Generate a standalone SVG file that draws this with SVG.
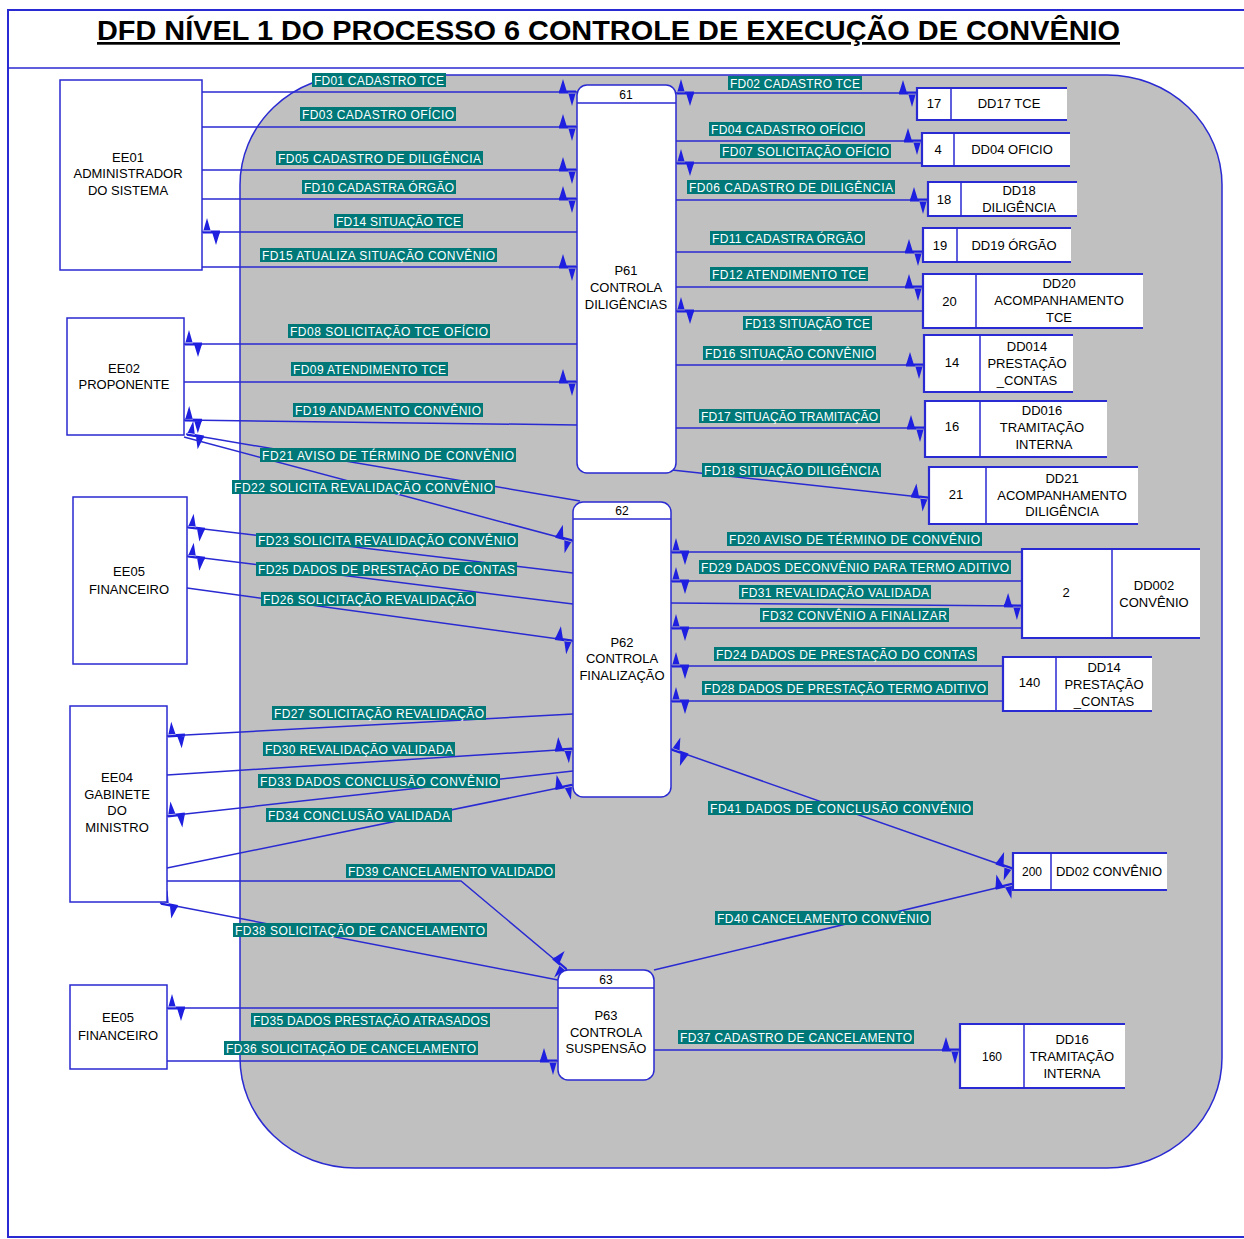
<svg xmlns="http://www.w3.org/2000/svg" width="1244" height="1239" viewBox="0 0 1244 1239">
<style>
.frame{fill:#ffffff;stroke:#2a2ad2;stroke-width:2}
.region{fill:#c0c0c0;stroke:#2a2ad2;stroke-width:1.5}
.ln{fill:none;stroke:#2a2ad2;stroke-width:1.5;marker-end:url(#ah)}
.bi{marker-start:url(#ah)}
.box{fill:#ffffff;stroke:#2a2ad2;stroke-width:1.5}
.sfill{fill:#ffffff;stroke:none}
.sline{fill:none;stroke:#2a2ad2;stroke-width:1.5}
.sedge{fill:none;stroke:#2a2ad2;stroke-width:2.2}
.lb{fill:#007878}
.lt{fill:#ffffff;font-family:"Liberation Sans",Arial,sans-serif;font-size:12px}
.nt{fill:#000000;font-family:"Liberation Sans",Arial,sans-serif;font-size:13px;text-anchor:middle}
.hd{fill:#000000;font-family:"Liberation Sans",Arial,sans-serif;font-size:12px;text-anchor:middle}
.title{fill:#000000;font-family:"Liberation Sans",Arial,sans-serif;font-size:27px;font-weight:bold;text-decoration:underline}
</style>
<defs>
<marker id="ah" markerUnits="userSpaceOnUse" orient="auto-start-reverse" overflow="visible" markerWidth="20" markerHeight="30" viewBox="-20 -15 20 30" refX="0" refY="0">
<path d="M-18,0 L-14,-13 L-10,0 Z M-9,0 L-5,14 L-1,0 Z M-18,-1.5 H-1 V1.5 H-18 Z" fill="#1f1fe0"/>
</marker>
</defs>
<rect x="0" y="0" width="1244" height="1239" fill="#ffffff"/>
<rect class="frame" x="8" y="10" width="1240" height="1227"/>
<line x1="8" y1="68" x2="1244" y2="68" stroke="#2a2ad2" stroke-width="1.5"/>
<text class="title" x="97" y="40" textLength="1023" lengthAdjust="spacingAndGlyphs">DFD NÍVEL 1 DO PROCESSO 6 CONTROLE DE EXECUÇÃO DE CONVÊNIO</text>
<rect class="region" x="240" y="75" width="982" height="1093" rx="115" ry="110"/>

<g id="connectors">
<g id="lines">
<path class="ln" d="M202,92 H577"/>
<path class="ln" d="M202,127 H577"/>
<path class="ln" d="M202,170 H577"/>
<path class="ln" d="M202,199 H577"/>
<path class="ln" d="M577,232 H202"/>
<path class="ln" d="M202,267 H577"/>
<path class="ln bi" d="M676,93 H917"/>
<path class="ln" d="M676,141 H922"/>
<path class="ln" d="M922,163 H676"/>
<path class="ln" d="M676,200 H928"/>
<path class="ln" d="M676,252 H923"/>
<path class="ln" d="M676,287 H923"/>
<path class="ln" d="M923,311 H676"/>
<path class="ln" d="M676,365 H924"/>
<path class="ln" d="M676,428 H925"/>
<path class="ln" d="M672,470 L929,498"/>
<path class="ln" d="M577,344 H184"/>
<path class="ln" d="M184,382 H577"/>
<path class="ln" d="M577,425 L184,420"/>
<path class="ln" d="M580,501 L186,434"/>
<path class="ln" d="M184,437 L573,541"/>
<path class="ln" d="M573,573 L187,527"/>
<path class="ln" d="M573,604 L187,556"/>
<path class="ln" d="M187,588 L573,641"/>
<path class="ln" d="M1022,552 H671"/>
<path class="ln" d="M1022,581 H671"/>
<path class="ln" d="M671,603 L1022,606"/>
<path class="ln" d="M1022,628 H671"/>
<path class="ln" d="M1003,666 H671"/>
<path class="ln" d="M1003,701 H671"/>
<path class="ln" d="M573,714 L167,736"/>
<path class="ln" d="M167,775 L573,749"/>
<path class="ln" d="M573,771 L167,816"/>
<path class="ln" d="M167,868 L573,785"/>
<path class="ln" d="M167,881 H461 L567,970"/>
<path class="ln" d="M558,980 L160,903"/>
<path class="ln bi" d="M671,749 L1013,869"/>
<path class="ln" d="M654,970 L1013,884"/>
<path class="ln" d="M558,1008 H167"/>
<path class="ln" d="M167,1061 H558"/>
<path class="ln" d="M654,1050 H960"/>
</g>
<g id="labels">
<rect class="lb" x="312" y="73" width="134" height="14"/><text class="lt" x="314" y="84.5" textLength="130" lengthAdjust="spacing">FD01 CADASTRO TCE</text>
<rect class="lb" x="728" y="76" width="134" height="14"/><text class="lt" x="730" y="87.5" textLength="130" lengthAdjust="spacing">FD02 CADASTRO TCE</text>
<rect class="lb" x="300" y="107" width="156" height="14"/><text class="lt" x="302" y="118.5" textLength="152" lengthAdjust="spacing">FD03 CADASTRO OFÍCIO</text>
<rect class="lb" x="709" y="122" width="156" height="14"/><text class="lt" x="711" y="133.5" textLength="152" lengthAdjust="spacing">FD04 CADASTRO OFÍCIO</text>
<rect class="lb" x="720" y="144" width="171" height="14"/><text class="lt" x="722" y="155.5" textLength="167" lengthAdjust="spacing">FD07 SOLICITAÇÃO OFÍCIO</text>
<rect class="lb" x="276" y="151" width="207" height="14"/><text class="lt" x="278" y="162.5" textLength="203" lengthAdjust="spacing">FD05 CADASTRO DE DILIGÊNCIA</text>
<rect class="lb" x="687" y="180" width="208" height="14"/><text class="lt" x="689" y="191.5" textLength="204" lengthAdjust="spacing">FD06 CADASTRO DE DILIGÊNCIA</text>
<rect class="lb" x="302" y="180" width="154" height="14"/><text class="lt" x="304" y="191.5" textLength="150" lengthAdjust="spacing">FD10 CADASTRA ÓRGÃO</text>
<rect class="lb" x="710" y="231" width="155" height="14"/><text class="lt" x="712" y="242.5" textLength="151" lengthAdjust="spacing">FD11 CADASTRA ÓRGÃO</text>
<rect class="lb" x="334" y="214" width="129" height="14"/><text class="lt" x="336" y="225.5" textLength="125" lengthAdjust="spacing">FD14 SITUAÇÃO TCE</text>
<rect class="lb" x="260" y="248" width="237" height="14"/><text class="lt" x="262" y="259.5" textLength="233" lengthAdjust="spacing">FD15 ATUALIZA SITUAÇÃO CONVÊNIO</text>
<rect class="lb" x="710" y="267" width="158" height="14"/><text class="lt" x="712" y="278.5" textLength="154" lengthAdjust="spacing">FD12 ATENDIMENTO TCE</text>
<rect class="lb" x="743" y="316" width="129" height="14"/><text class="lt" x="745" y="327.5" textLength="125" lengthAdjust="spacing">FD13 SITUAÇÃO TCE</text>
<rect class="lb" x="288" y="324" width="202" height="14"/><text class="lt" x="290" y="335.5" textLength="198" lengthAdjust="spacing">FD08 SOLICITAÇÃO TCE OFÍCIO</text>
<rect class="lb" x="291" y="362" width="157" height="14"/><text class="lt" x="293" y="373.5" textLength="153" lengthAdjust="spacing">FD09 ATENDIMENTO TCE</text>
<rect class="lb" x="293" y="403" width="190" height="14"/><text class="lt" x="295" y="414.5" textLength="186" lengthAdjust="spacing">FD19 ANDAMENTO CONVÊNIO</text>
<rect class="lb" x="703" y="346" width="173" height="14"/><text class="lt" x="705" y="357.5" textLength="169" lengthAdjust="spacing">FD16 SITUAÇÃO CONVÊNIO</text>
<rect class="lb" x="699" y="409" width="181" height="14"/><text class="lt" x="701" y="420.5" textLength="177" lengthAdjust="spacing">FD17 SITUAÇÃO TRAMITAÇÃO</text>
<rect class="lb" x="702" y="463" width="179" height="14"/><text class="lt" x="704" y="474.5" textLength="175" lengthAdjust="spacing">FD18 SITUAÇÃO DILIGÊNCIA</text>
<rect class="lb" x="260" y="448" width="256" height="14"/><text class="lt" x="262" y="459.5" textLength="252" lengthAdjust="spacing">FD21 AVISO DE TÉRMINO DE CONVÊNIO</text>
<rect class="lb" x="232" y="480" width="263" height="14"/><text class="lt" x="234" y="491.5" textLength="259" lengthAdjust="spacing">FD22 SOLICITA REVALIDAÇÃO CONVÊNIO</text>
<rect class="lb" x="256" y="533" width="262" height="14"/><text class="lt" x="258" y="544.5" textLength="258" lengthAdjust="spacing">FD23 SOLICITA REVALIDAÇÃO CONVÊNIO</text>
<rect class="lb" x="256" y="562" width="261" height="14"/><text class="lt" x="258" y="573.5" textLength="257" lengthAdjust="spacing">FD25 DADOS DE PRESTAÇÃO DE CONTAS</text>
<rect class="lb" x="261" y="592" width="215" height="14"/><text class="lt" x="263" y="603.5" textLength="211" lengthAdjust="spacing">FD26 SOLICITAÇÃO REVALIDAÇÃO</text>
<rect class="lb" x="727" y="532" width="255" height="14"/><text class="lt" x="729" y="543.5" textLength="251" lengthAdjust="spacing">FD20 AVISO DE TÉRMINO DE CONVÊNIO</text>
<rect class="lb" x="699" y="560" width="312" height="14"/><text class="lt" x="701" y="571.5" textLength="308" lengthAdjust="spacing">FD29 DADOS DECONVÊNIO PARA TERMO ADITIVO</text>
<rect class="lb" x="739" y="585" width="192" height="14"/><text class="lt" x="741" y="596.5" textLength="188" lengthAdjust="spacing">FD31 REVALIDAÇÃO VALIDADA</text>
<rect class="lb" x="760" y="608" width="189" height="14"/><text class="lt" x="762" y="619.5" textLength="185" lengthAdjust="spacing">FD32 CONVÊNIO A FINALIZAR</text>
<rect class="lb" x="714" y="647" width="263" height="14"/><text class="lt" x="716" y="658.5" textLength="259" lengthAdjust="spacing">FD24 DADOS DE PRESTAÇÃO DO CONTAS</text>
<rect class="lb" x="702" y="681" width="286" height="14"/><text class="lt" x="704" y="692.5" textLength="282" lengthAdjust="spacing">FD28 DADOS DE PRESTAÇÃO TERMO ADITIVO</text>
<rect class="lb" x="272" y="706" width="214" height="14"/><text class="lt" x="274" y="717.5" textLength="210" lengthAdjust="spacing">FD27 SOLICITAÇÃO REVALIDAÇÃO</text>
<rect class="lb" x="263" y="742" width="192" height="14"/><text class="lt" x="265" y="753.5" textLength="188" lengthAdjust="spacing">FD30 REVALIDAÇÃO VALIDADA</text>
<rect class="lb" x="258" y="774" width="242" height="14"/><text class="lt" x="260" y="785.5" textLength="238" lengthAdjust="spacing">FD33 DADOS CONCLUSÃO CONVÊNIO</text>
<rect class="lb" x="266" y="808" width="186" height="14"/><text class="lt" x="268" y="819.5" textLength="182" lengthAdjust="spacing">FD34 CONCLUSÃO VALIDADA</text>
<rect class="lb" x="346" y="864" width="209" height="14"/><text class="lt" x="348" y="875.5" textLength="205" lengthAdjust="spacing">FD39 CANCELAMENTO VALIDADO</text>
<rect class="lb" x="233" y="923" width="254" height="14"/><text class="lt" x="235" y="934.5" textLength="250" lengthAdjust="spacing">FD38 SOLICITAÇÃO DE CANCELAMENTO</text>
<rect class="lb" x="708" y="801" width="265" height="14"/><text class="lt" x="710" y="812.5" textLength="261" lengthAdjust="spacing">FD41 DADOS DE CONCLUSÃO CONVÊNIO</text>
<rect class="lb" x="715" y="911" width="216" height="14"/><text class="lt" x="717" y="922.5" textLength="212" lengthAdjust="spacing">FD40 CANCELAMENTO CONVÊNIO</text>
<rect class="lb" x="251" y="1013" width="239" height="14"/><text class="lt" x="253" y="1024.5" textLength="235" lengthAdjust="spacing">FD35 DADOS PRESTAÇÃO ATRASADOS</text>
<rect class="lb" x="224" y="1041" width="254" height="14"/><text class="lt" x="226" y="1052.5" textLength="250" lengthAdjust="spacing">FD36 SOLICITAÇÃO DE CANCELAMENTO</text>
<rect class="lb" x="678" y="1030" width="236" height="14"/><text class="lt" x="680" y="1041.5" textLength="232" lengthAdjust="spacing">FD37 CADASTRO DE CANCELAMENTO</text>
</g>
</g>

<g id="EE01"><rect class="box" x="60" y="80" width="142" height="190"/>
<text class="nt" x="128" y="161.5">EE01</text><text class="nt" x="128" y="178">ADMINISTRADOR</text><text class="nt" x="128" y="195">DO SISTEMA</text></g>
<g id="EE02"><rect class="box" x="67" y="318" width="117" height="117"/>
<text class="nt" x="124" y="372.5">EE02</text><text class="nt" x="124" y="388.5">PROPONENTE</text></g>
<g id="EE05a"><rect class="box" x="73" y="497" width="114" height="167"/>
<text class="nt" x="129" y="576">EE05</text><text class="nt" x="129" y="593.5">FINANCEIRO</text></g>
<g id="EE04"><rect class="box" x="70" y="706" width="97" height="196"/>
<text class="nt" x="117" y="781.5">EE04</text><text class="nt" x="117" y="798.5">GABINETE</text><text class="nt" x="117" y="815">DO</text><text class="nt" x="117" y="831.5">MINISTRO</text></g>
<g id="EE05b"><rect class="box" x="70" y="985" width="97" height="84"/>
<text class="nt" x="118" y="1021.5">EE05</text><text class="nt" x="118" y="1039.5">FINANCEIRO</text></g>

<g id="P61"><rect class="box" x="577" y="85" width="99" height="388" rx="10"/><line class="sline" x1="577" y1="103" x2="676" y2="103"/>
<text class="hd" x="626" y="98.5">61</text>
<text class="nt" x="626" y="275">P61</text><text class="nt" x="626" y="292">CONTROLA</text><text class="nt" x="626" y="308.5">DILIGÊNCIAS</text></g>
<g id="P62"><rect class="box" x="573" y="502" width="98" height="295" rx="10"/><line class="sline" x1="573" y1="519" x2="671" y2="519"/>
<text class="hd" x="622" y="514.5">62</text>
<text class="nt" x="622" y="646.5">P62</text><text class="nt" x="622" y="662.5">CONTROLA</text><text class="nt" x="622" y="679.5">FINALIZAÇÃO</text></g>
<g id="P63"><rect class="box" x="558" y="970" width="96" height="110" rx="10"/><line class="sline" x1="558" y1="988" x2="654" y2="988"/>
<text class="hd" x="606" y="983.5">63</text>
<text class="nt" x="606" y="1019.5">P63</text><text class="nt" x="606" y="1036.5">CONTROLA</text><text class="nt" x="606" y="1052.5">SUSPENSÃO</text></g>

<g id="DD17"><rect class="sfill" x="917" y="88" width="150" height="32"/><path class="sedge" d="M1067,88 H917 V120 H1067"/><line class="sline" x1="951" y1="88" x2="951" y2="120"/>
<text class="nt" x="934" y="108">17</text><text class="nt" x="1009" y="108">DD17 TCE</text></g>
<g id="DD04"><rect class="sfill" x="922" y="133" width="148" height="33"/><path class="sedge" d="M1070,133 H922 V166 H1070"/><line class="sline" x1="954" y1="133" x2="954" y2="166"/>
<text class="nt" x="938" y="153.5">4</text><text class="nt" x="1012" y="153.5">DD04 OFICIO</text></g>
<g id="DD18"><rect class="sfill" x="928" y="182" width="149" height="34"/><path class="sedge" d="M1077,182 H928 V216 H1077"/><line class="sline" x1="961" y1="182" x2="961" y2="216"/>
<text class="nt" x="944" y="203.5">18</text><text class="nt" x="1019" y="195">DD18</text><text class="nt" x="1019" y="212">DILIGÊNCIA</text></g>
<g id="DD19"><rect class="sfill" x="923" y="228" width="148" height="34"/><path class="sedge" d="M1071,228 H923 V262 H1071"/><line class="sline" x1="957" y1="228" x2="957" y2="262"/>
<text class="nt" x="940" y="249.5">19</text><text class="nt" x="1014" y="249.5">DD19 ÓRGÃO</text></g>
<g id="DD20"><rect class="sfill" x="923" y="274" width="220" height="54"/><path class="sedge" d="M1143,274 H923 V328 H1143"/><line class="sline" x1="976" y1="274" x2="976" y2="328"/>
<text class="nt" x="949.5" y="305.5">20</text><text class="nt" x="1059" y="287.5">DD20</text><text class="nt" x="1059" y="304.5">ACOMPANHAMENTO</text><text class="nt" x="1059" y="321.5">TCE</text></g>
<g id="DD014"><rect class="sfill" x="924" y="335" width="149" height="57"/><path class="sedge" d="M1073,335 H924 V392 H1073"/><line class="sline" x1="980" y1="335" x2="980" y2="392"/>
<text class="nt" x="952" y="366.5">14</text><text class="nt" x="1027" y="350.5">DD014</text><text class="nt" x="1027" y="367.5">PRESTAÇÃO</text><text class="nt" x="1027" y="384.5">_CONTAS</text></g>
<g id="DD016"><rect class="sfill" x="925" y="401" width="182" height="56"/><path class="sedge" d="M1107,401 H925 V457 H1107"/><line class="sline" x1="980" y1="401" x2="980" y2="457"/>
<text class="nt" x="952" y="430.5">16</text><text class="nt" x="1042" y="414.5">DD016</text><text class="nt" x="1042" y="432">TRAMITAÇÃO</text><text class="nt" x="1044" y="448.5">INTERNA</text></g>
<g id="DD21"><rect class="sfill" x="929" y="467" width="209" height="57"/><path class="sedge" d="M1138,467 H929 V524 H1138"/><line class="sline" x1="986" y1="467" x2="986" y2="524"/>
<text class="nt" x="956" y="498.5">21</text><text class="nt" x="1062" y="482.5">DD21</text><text class="nt" x="1062" y="499.5">ACOMPANHAMENTO</text><text class="nt" x="1062" y="516">DILIGÊNCIA</text></g>
<g id="DD002"><rect class="sfill" x="1022" y="549" width="178" height="89"/><path class="sedge" d="M1200,549 H1022 V638 H1200"/><line class="sline" x1="1112" y1="549" x2="1112" y2="638"/>
<text class="nt" x="1066" y="596.5">2</text><text class="nt" x="1154" y="589.5">DD002</text><text class="nt" x="1154" y="606.5">CONVÊNIO</text></g>
<g id="DD14"><rect class="sfill" x="1003" y="657" width="149" height="54"/><path class="sedge" d="M1152,657 H1003 V711 H1152"/><line class="sline" x1="1056" y1="657" x2="1056" y2="711"/>
<text class="nt" x="1029.5" y="686.5">140</text><text class="nt" x="1104" y="671.5">DD14</text><text class="nt" x="1104" y="689">PRESTAÇÃO</text><text class="nt" x="1104" y="706">_CONTAS</text></g>
<g id="DD02"><rect class="sfill" x="1013" y="853" width="154" height="37"/><path class="sedge" d="M1167,853 H1013 V890 H1167"/><line class="sline" x1="1051" y1="853" x2="1051" y2="890"/>
<text class="hd" x="1032" y="875.5">200</text><text class="nt" x="1109" y="875.5">DD02 CONVÊNIO</text></g>
<g id="DD16"><rect class="sfill" x="960" y="1024" width="165" height="64"/><path class="sedge" d="M1125,1024 H960 V1088 H1125"/><line class="sline" x1="1024" y1="1024" x2="1024" y2="1088"/>
<text class="hd" x="992" y="1060.5">160</text><text class="nt" x="1072" y="1043.5">DD16</text><text class="nt" x="1072" y="1060.5">TRAMITAÇÃO</text><text class="nt" x="1072" y="1077.5">INTERNA</text></g>
</svg>
